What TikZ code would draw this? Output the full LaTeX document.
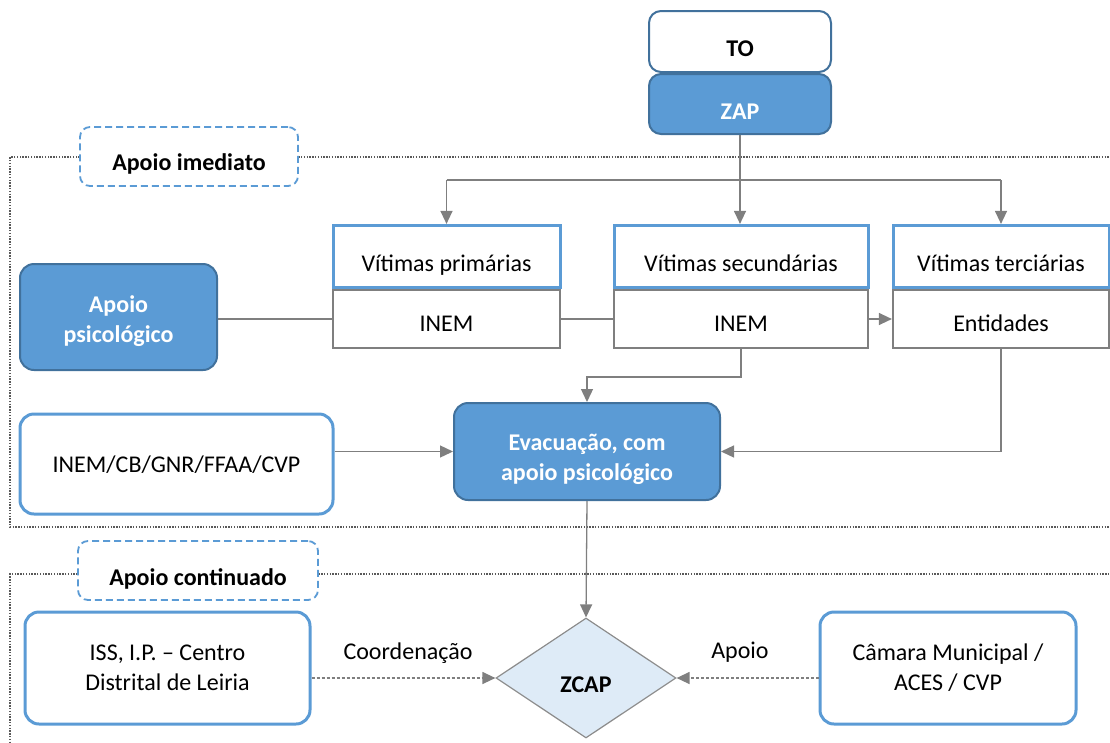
\documentclass[tikz,border=0pt]{standalone}
\usepackage{fontspec}
\setmainfont{Carlito}
\usetikzlibrary{shapes.geometric,arrows.meta}
\definecolor{bfill}{HTML}{5B9BD5}
\definecolor{bdark}{HTML}{41719C}
\definecolor{gline}{HTML}{7F7F7F}
\definecolor{dfill}{HTML}{DEEBF7}
\tikzset{
  every node/.style={font=\fontsize{24}{30}\selectfont, align=center, inner sep=0pt},
  one/.style={text height=28pt, text depth=0pt},
  bluebox/.style={rounded corners=14pt, fill=bfill, draw=bdark, line width=2pt, text=white, font=\fontsize{24}{30}\selectfont\bfseries},
  whitebox/.style={rounded corners=14pt, fill=white, draw=bfill, line width=3pt},
  tagbox/.style={rounded corners=10pt, draw=bfill, line width=1.8pt, dash pattern=on 7pt off 4pt, fill=white, font=\fontsize{24}{30}\selectfont\bfseries, one},
  vtop/.style={draw=bfill, line width=3pt, fill=white, one},
  vbot/.style={draw=gline, line width=2.2pt, fill=white, text height=25pt, text depth=0pt},
  conn/.style={draw=gline, line width=1.3pt},
  arr/.style={conn, -{Triangle[length=13pt,width=12pt]}},
  dconn/.style={draw=gline, line width=1.3pt, dash pattern=on 3pt off 2pt, -{Triangle[length=13pt,width=12pt]}},
  frame/.style={draw=gline!70!black, line width=1.6pt, dash pattern=on 1.4pt off 1.4pt},
}
\begin{document}
\begin{tikzpicture}[x=1pt,y=-1pt]
\useasboundingbox (0,0) rectangle (1110,742);
% frames
\coordinate (fA) at (10,157);
\coordinate (fC) at (10,574);
\draw[frame] (189,157) -- (fA) -- (10,527) -- (1110,527);
\draw[frame] (189,157) -- (1110,157);
\draw[frame] (198,574) -- (fC) -- (10,742);
\draw[frame] (198,574) -- (1110,574);
\node[tagbox, minimum width=218pt, minimum height=59pt] (lblA) at (189,156.5) {Apoio imediato};
\node[tagbox, minimum width=240pt, minimum height=59pt, text height=30pt] (lblC) at (198,570.5) {Apoio continuado};
% top
\node[rounded corners=12pt, fill=white, draw=bdark, line width=2pt, minimum width=182pt, minimum height=61pt, font=\fontsize{24}{30}\selectfont\bfseries, text height=30pt, text depth=0pt] (TO) at (740,41.5) {TO};
\node[bluebox, rounded corners=12pt, minimum width=182pt, minimum height=60pt, text height=30pt, text depth=0pt] (ZAP) at (740,104) {ZAP};
% victims
\node[vbot, minimum width=227pt, minimum height=58pt] (vpb) at (446.5,319) {INEM};
\node[vtop, minimum width=227pt, minimum height=62pt, anchor=south, text height=30pt] (vpt) at (vpb.north) {Vítimas primárias};
\node[vbot, minimum width=254pt, minimum height=58pt] (vsb) at (741,319) {INEM};
\node[vtop, minimum width=254pt, minimum height=62pt, anchor=south, text height=30pt] (vst) at (vsb.north) {Vítimas secundárias};
\node[vbot, minimum width=216pt, minimum height=58pt] (vtb) at (1001,319) {Entidades};
\node[vtop, minimum width=216pt, minimum height=62pt, anchor=south, text height=30pt] (vtt) at (vtb.north) {Vítimas terciárias};
% others
\node[bluebox, minimum width=197pt, minimum height=106pt, text height=54.5pt] (psic) at (118.5,317) {Apoio\\psicológico};
\node[bluebox, minimum width=266pt, minimum height=97pt, text height=63pt] (evac) at (587,451.5) {Evacuação, com\\apoio psicológico};
\node[whitebox, minimum width=313pt, minimum height=100pt, text height=17pt, text depth=0pt] (inem) at (176.5,464) {INEM/CB/GNR/FFAA/CVP};
\node[whitebox, minimum width=285pt, minimum height=112pt] (iss) at (167.5,668) {ISS, I.P. – Centro\\Distrital de Leiria};
\node[whitebox, minimum width=256pt, minimum height=112pt] (cam) at (948,668) {Câmara Municipal /\\ACES / CVP};
\node[diamond, aspect=1.5, fill=dfill, draw=gline!90, line width=1.2pt, minimum width=180pt, minimum height=120pt, font=\fontsize{24}{30}\selectfont\bfseries, one] (zcap) at (586,678) {ZCAP};
% connectors
\coordinate (br) at (740,180);
\draw[conn] (vpt.north |- br) -- (vtt.north |- br);
\draw[arr] (vpt.north |- br) -- (vpt.north);
\draw[arr] (vtt.north |- br) -- (vtt.north);
\draw[arr] (ZAP.south) -- (ZAP.south |- vst.north);
\draw[conn] (psic.east |- vpb.west) -- (vpb.west);
\draw[conn] (vpb.east) -- (vsb.west);
\draw[arr] (vsb.east) -- (vtb.west);
\draw[arr] (vsb.south) -- ++(0,28) -| (evac.north);
\draw[arr] (vtb.south) |- (evac.east);
\draw[arr] (inem.east |- evac.west) -- (evac.west);
\draw[arr] (evac.south) -- (zcap.north);
\draw[dconn] (iss.east |- zcap.west) -- (zcap.west);
\draw[dconn] (cam.west |- zcap.east) -- (zcap.east);
\node (lcoord) at (408,653) {Coordenação};
\node (lapoio) at (740,652) {Apoio};
\end{tikzpicture}
\end{document}
